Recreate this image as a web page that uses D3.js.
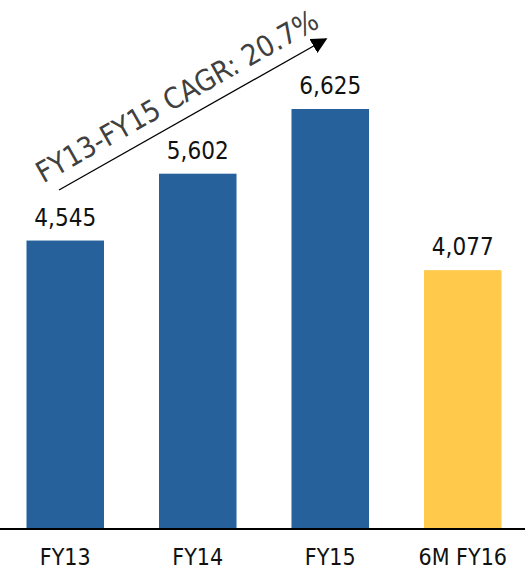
<!DOCTYPE html>
<html>
<head>
<meta charset="utf-8">
<script src="https://cdn.jsdelivr.net/npm/d3@7"></script>
<style>
  body { margin: 0; background: #fff; }
  text { font-family: "DejaVu Sans Condensed", "DejaVu Sans", sans-serif; font-stretch: condensed; }
</style>
</head>
<body>
<svg></svg>
<script>
var categories = ["FY13", "FY14", "FY15", "6M FY16"];
var values = [4545, 5602, 6625, 4077];
var barColors = ["#26619b", "#26619b", "#26619b", "#ffc94b"];
var cagrLabel = "FY13-FY15 CAGR: 20.7%";

var screen = {width: 525, height: 573};
var baseY = 528;

var svg = d3.select("svg")
    .attr("width", screen.width)
    .attr("height", screen.height);

var xScale = d3.scaleBand()
    .domain(categories)
    .range([0, 528])
    .paddingInner(0.415)
    .paddingOuter(0.2);

var yScale = d3.scaleLinear()
    .domain([0, 6625])
    .range([baseY, 109]);

var fmt = d3.format(",");

svg.selectAll(".bar")
    .data(values)
    .enter()
    .append("rect")
    .attr("class", "bar")
    .attr("x", function(d, i){ return xScale(categories[i]); })
    .attr("y", function(d){ return yScale(d); })
    .attr("width", xScale.bandwidth())
    .attr("height", function(d){ return baseY - yScale(d); })
    .attr("fill", function(d, i){ return barColors[i]; });

svg.selectAll(".val")
    .data(values)
    .enter()
    .append("text")
    .attr("class", "val")
    .attr("x", function(d, i){ return xScale(categories[i]) + xScale.bandwidth() / 2; })
    .attr("y", function(d){ return yScale(d) - 15; })
    .attr("text-anchor", "middle")
    .attr("font-size", 24)
    .attr("fill", "#111")
    .text(function(d){ return fmt(d); });

// baseline
svg.append("line")
    .attr("x1", 0)
    .attr("x2", screen.width)
    .attr("y1", baseY + 1)
    .attr("y2", baseY + 1)
    .attr("stroke", "#000")
    .attr("stroke-width", 2);

var xAxis = d3.axisBottom(xScale).tickSize(0).tickPadding(20);
var ax = svg.append("g")
    .attr("transform", "translate(0," + (baseY + 1) + ")")
    .call(xAxis);
ax.select(".domain").remove();
ax.selectAll("text")
    .attr("font-size", 23)
    .attr("fill", "#111")
    .style("font-family", "'DejaVu Sans Condensed', 'DejaVu Sans', sans-serif");

// CAGR arrow
svg.append("defs").append("marker")
    .attr("id", "head")
    .attr("viewBox", "0 0 10 10")
    .attr("refX", 9)
    .attr("refY", 5)
    .attr("markerWidth", 16)
    .attr("markerHeight", 16)
    .attr("markerUnits", "userSpaceOnUse")
    .attr("orient", "auto")
    .append("path")
    .attr("d", "M0,0L10,5L0,10Z")
    .attr("fill", "#000");

svg.append("line")
    .attr("x1", 59)
    .attr("y1", 190)
    .attr("x2", 326)
    .attr("y2", 39)
    .attr("stroke", "#000")
    .attr("stroke-width", 1.3)
    .attr("marker-end", "url(#head)");

svg.append("text")
    .attr("transform", "translate(182,105) rotate(-29.5)")
    .attr("text-anchor", "middle")
    .attr("font-size", 29)
    .attr("fill", "#404040")
    .text(cagrLabel);
</script>
</body>
</html>
